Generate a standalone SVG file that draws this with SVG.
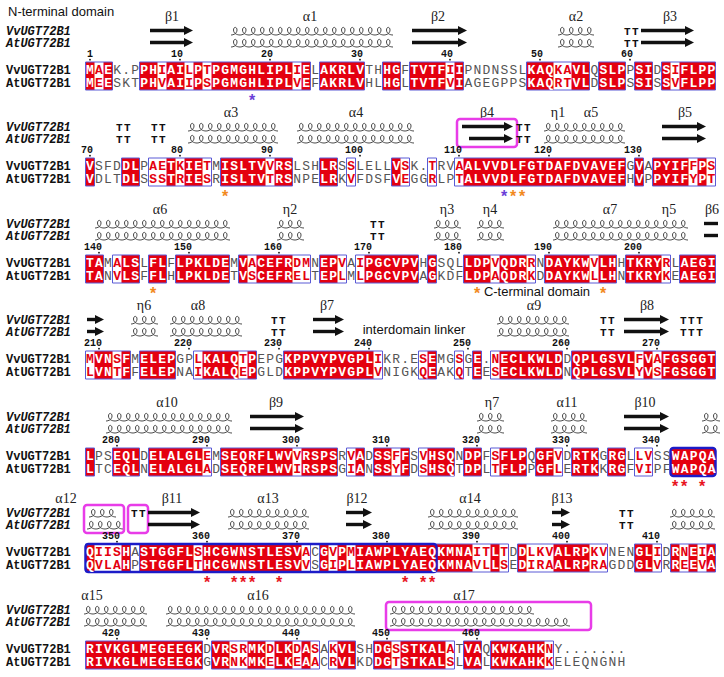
<svg xmlns="http://www.w3.org/2000/svg" width="724" height="677" viewBox="0 0 724 677">
<style>
.sq{font-family:"Liberation Mono",monospace;font-size:13px;font-weight:bold;letter-spacing:1.2px;fill:#fff}
.b{fill:#e4000f}.c{fill:#555;font-weight:normal}
.rd{fill:#e4000f}
.fr{fill:none;stroke:#5a5ad6;stroke-width:1}
.sl{font-family:"Liberation Mono",monospace;font-size:12px;font-weight:bold;fill:#111}
.il{font-family:"Liberation Mono",monospace;font-size:12px;font-weight:bold;font-style:italic;fill:#111}
.nm{font-family:"Liberation Mono",monospace;font-size:10px;font-weight:bold;fill:#111;text-anchor:end}
.gk{font-family:"Liberation Serif",serif;font-size:14px;fill:#222;text-anchor:middle}
.tt{font-family:"Liberation Mono",monospace;font-size:11px;font-weight:bold;letter-spacing:1.5px;fill:#111}
.ar{stroke:#111;stroke-width:3.4;marker-end:url(#ah)}
.br{stroke:#111;stroke-width:3.4}
.st{font-family:"Liberation Sans",sans-serif;font-size:16px;font-weight:bold;text-anchor:middle}
.so{fill:#f28a1e}.sp{fill:#6a3fd8}.sr{fill:#e8141e}
.mg{fill:none;stroke:#e83ce8;stroke-width:2.5}
.tb{fill:none;stroke:#1c1cc8;stroke-width:2.5}
.dm{font-family:"Liberation Sans",sans-serif;font-size:13px;fill:#111}
.hx{fill:url(#hx)}
.dt{fill:#111}
</style>
<defs>
<pattern id="hx" patternUnits="userSpaceOnUse" width="9" height="11"><path d="M0,10 C2.5,10 6,8.5 6,5 C6,1.5 2.5,1.5 2.5,5 C2.5,8.5 6,10 9,10" fill="none" stroke="#333" stroke-width="0.9"/></pattern>
<marker id="ah" viewBox="0 0 10 10" refX="0" refY="5" markerWidth="10" markerHeight="9" markerUnits="userSpaceOnUse" orient="auto"><path d="M0,0 L10,5 L0,10 Z" fill="#111"/></marker>
</defs>
<rect width="724" height="677" fill="#fff"/>
<text class="dm" x="8" y="16">N-terminal domain</text>

<g id="block1" transform="translate(0,70)">
<text class="gk" x="172" y="-49">β1</text><text class="gk" x="310" y="-49">α1</text><text class="gk" x="438" y="-49">β2</text><text class="gk" x="576" y="-49">α2</text><text class="gk" x="670" y="-49">β3</text>
<text class="il" x="6" y="-35">VvUGT72B1</text><text class="il" x="6" y="-23">AtUGT72B1</text>
<line class="ar" x1="150" y1="-39.5" x2="184" y2="-39.5"/><line class="ar" x1="150" y1="-27.5" x2="184" y2="-27.5"/>
<rect class="hx" transform="translate(231,-45)" width="162" height="11"/><rect class="hx" transform="translate(231,-33)" width="162" height="11"/>
<line class="ar" x1="412" y1="-39.5" x2="458" y2="-39.5"/><line class="ar" x1="412" y1="-27.5" x2="458" y2="-27.5"/>
<rect class="hx" transform="translate(558,-45)" width="36" height="11"/><rect class="hx" transform="translate(558,-33)" width="36" height="11"/>
<text class="tt" x="624" y="-35">TT</text><text class="tt" x="624" y="-23">TT</text>
<line class="ar" x1="641" y1="-39.5" x2="685" y2="-39.5"/><line class="ar" x1="641" y1="-27.5" x2="685" y2="-27.5"/>
<text class="nm" x="93" y="-13.5">1</text><text class="nm" x="183" y="-13.5">10</text><text class="nm" x="273" y="-13.5">20</text><text class="nm" x="363" y="-13.5">30</text><text class="nm" x="453" y="-13.5">40</text><text class="nm" x="543" y="-13.5">50</text><text class="nm" x="633" y="-13.5">60</text>
<g class="dt"><circle cx="90" cy="-10.3" r="0.9"/><circle cx="180" cy="-10.3" r="0.9"/><circle cx="270" cy="-10.3" r="0.9"/><circle cx="360" cy="-10.3" r="0.9"/><circle cx="450" cy="-10.3" r="0.9"/><circle cx="540" cy="-10.3" r="0.9"/><circle cx="630" cy="-10.3" r="0.9"/></g>
<path class="rd" d="M85.5 -8h9v28h-9z M103.5 -8h9v28h-9z M139.5 -8h18v28h-18z M166.5 -8h18v28h-18z M193.5 -8h9v28h-9z M211.5 -8h81v28h-81z M301.5 -8h9v28h-9z M319.5 -8h45v28h-45z M382.5 -8h18v28h-18z M409.5 -8h36v28h-36z M454.5 -8h9v28h-9z M526.5 -8h27v28h-27z M571.5 -8h18v28h-18z M598.5 -8h27v28h-27z M634.5 -8h18v28h-18z M661.5 -8h9v28h-9z M679.5 -8h36v28h-36z"/>
<path class="fr" d="M85.5 -8h27v28h-27z M139.5 -8h171v28h-171z M319.5 -8h45v28h-45z M382.5 -8h18v28h-18z M409.5 -8h54v28h-54z M526.5 -8h63v28h-63z M598.5 -8h27v28h-27z M634.5 -8h18v28h-18z M661.5 -8h54v28h-54z"/>
<text class="sl" x="6" y="4">VvUGT72B1</text><text class="sl" x="6" y="16.5">AtUGT72B1</text>
<text class="sq" x="86.1" y="4">M<tspan class="b">A</tspan>E<tspan class="c">K.P</tspan>PH<tspan class="b">I</tspan>AI<tspan class="b">L</tspan>P<tspan class="b">T</tspan>PGMGHLIPL<tspan class="b">I</tspan>E<tspan class="c">L</tspan>AKRLV<tspan class="c">TH</tspan>HG<tspan class="c">F</tspan>TVTF<tspan class="b">I</tspan>I<tspan class="c">PNDNSSL</tspan>KAQ<tspan class="b">KA</tspan>VL<tspan class="c">Q</tspan>SLP<tspan class="c">P</tspan>SI<tspan class="c">D</tspan>S<tspan class="b">I</tspan>FLPP</text>
<text class="sq" x="86.1" y="16.5">M<tspan class="b">E</tspan>E<tspan class="c">SKT</tspan>PH<tspan class="b">V</tspan>AI<tspan class="b">I</tspan>P<tspan class="b">S</tspan>PGMGHLIPL<tspan class="b">V</tspan>E<tspan class="c">F</tspan>AKRLV<tspan class="c">HL</tspan>HG<tspan class="c">L</tspan>TVTF<tspan class="b">V</tspan>I<tspan class="c">AGEGPPS</tspan>KAQ<tspan class="b">RT</tspan>VL<tspan class="c">D</tspan>SLP<tspan class="c">S</tspan>SI<tspan class="c">S</tspan>S<tspan class="b">V</tspan>FLPP</text>
<text class="st sp" x="252" y="36">*</text>
</g>

<g id="block2" transform="translate(0,166)">
<text class="gk" x="231" y="-49">α3</text><text class="gk" x="356" y="-49">α4</text><text class="gk" x="487" y="-49">β4</text><text class="gk" x="558" y="-49">η1</text><text class="gk" x="591" y="-49">α5</text><text class="gk" x="685" y="-49">β5</text>
<text class="il" x="6" y="-35">VvUGT72B1</text><text class="il" x="6" y="-23">AtUGT72B1</text>
<text class="tt" x="116" y="-35">TT</text><text class="tt" x="116" y="-23">TT</text><text class="tt" x="151" y="-35">TT</text><text class="tt" x="151" y="-23">TT</text>
<rect class="hx" transform="translate(188,-45)" width="90" height="11"/><rect class="hx" transform="translate(188,-33)" width="90" height="11"/>
<rect class="hx" transform="translate(297,-45)" width="117" height="11"/><rect class="hx" transform="translate(297,-33)" width="117" height="11"/>
<line class="ar" x1="462" y1="-39.5" x2="504" y2="-39.5"/><line class="ar" x1="469" y1="-27.5" x2="504" y2="-27.5"/>
<rect class="mg" x="457" y="-47" width="60" height="28" rx="3"/>
<text class="tt" x="516" y="-35">TT</text><text class="tt" x="516" y="-23">TT</text>
<rect class="hx" transform="translate(544,-45)" width="81" height="11"/><rect class="hx" transform="translate(544,-33)" width="81" height="11"/>
<line class="ar" x1="662" y1="-39.5" x2="697" y2="-39.5"/><line class="ar" x1="662" y1="-27.5" x2="697" y2="-27.5"/>
<text class="nm" x="93" y="-13.5">70</text><text class="nm" x="183" y="-13.5">80</text><text class="nm" x="273" y="-13.5">90</text><text class="nm" x="363" y="-13.5">100</text><text class="nm" x="462" y="-13.5">110</text><text class="nm" x="552" y="-13.5">120</text><text class="nm" x="642" y="-13.5">130</text>
<g class="dt"><circle cx="90" cy="-10.3" r="0.9"/><circle cx="180" cy="-10.3" r="0.9"/><circle cx="270" cy="-10.3" r="0.9"/><circle cx="360" cy="-10.3" r="0.9"/><circle cx="459" cy="-10.3" r="0.9"/><circle cx="549" cy="-10.3" r="0.9"/><circle cx="639" cy="-10.3" r="0.9"/></g>
<path class="rd" d="M85.5 -8h9v28h-9z M121.5 -8h18v28h-18z M166.5 -8h9v28h-9z M184.5 -8h18v28h-18z M220.5 -8h45v28h-45z M274.5 -8h18v28h-18z M319.5 -8h18v28h-18z M391.5 -8h9v28h-9z M463.5 -8h162v28h-162z M634.5 -8h9v28h-9z M652.5 -8h36v28h-36z M697.5 -8h9v28h-9z"/>
<path class="fr" d="M85.5 -8h9v28h-9z M121.5 -8h18v28h-18z M148.5 -8h63v28h-63z M220.5 -8h72v28h-72z M319.5 -8h18v28h-18z M346.5 -8h9v28h-9z M391.5 -8h18v28h-18z M427.5 -8h9v28h-9z M454.5 -8h171v28h-171z M634.5 -8h9v28h-9z M652.5 -8h63v28h-63z"/>
<text class="sl" x="6" y="4">VvUGT72B1</text><text class="sl" x="6" y="16.5">AtUGT72B1</text>
<text class="sq" x="86.1" y="4">V<tspan class="c">SFD</tspan>DL<tspan class="c">P</tspan><tspan class="b">AE</tspan>T<tspan class="b">K</tspan>IE<tspan class="b">T</tspan><tspan class="c">M</tspan>ISLTV<tspan class="b">V</tspan>RS<tspan class="c">LSH</tspan>LR<tspan class="c">S</tspan><tspan class="b">S</tspan><tspan class="c">LELL</tspan>V<tspan class="b">S</tspan><tspan class="c">K.</tspan><tspan class="b">T</tspan><tspan class="c">RV</tspan><tspan class="b">A</tspan>ALVVDLFGTDAFDVAVEF<tspan class="c">G</tspan>V<tspan class="c">A</tspan>PYIF<tspan class="b">F</tspan>P<tspan class="b">S</tspan></text>
<text class="sq" x="86.1" y="16.5">V<tspan class="c">DLT</tspan>DL<tspan class="c">S</tspan><tspan class="b">SS</tspan>T<tspan class="b">R</tspan>IE<tspan class="b">S</tspan><tspan class="c">R</tspan>ISLTV<tspan class="b">T</tspan>RS<tspan class="c">NPE</tspan>LR<tspan class="c">K</tspan><tspan class="b">V</tspan><tspan class="c">FDSF</tspan>V<tspan class="b">E</tspan><tspan class="c">GG</tspan><tspan class="b">R</tspan><tspan class="c">LP</tspan><tspan class="b">T</tspan>ALVVDLFGTDAFDVAVEF<tspan class="c">H</tspan>V<tspan class="c">P</tspan>PYIF<tspan class="b">Y</tspan>P<tspan class="b">T</tspan></text>
<text class="st so" x="225" y="36">*</text><text class="st sp" x="504" y="36">*</text><text class="st so" x="513" y="36">*</text><text class="st so" x="522" y="36">*</text>
</g>

<g id="block3" transform="translate(0,263)">
<text class="gk" x="160" y="-49">α6</text><text class="gk" x="290" y="-49">η2</text><text class="gk" x="447" y="-49">η3</text><text class="gk" x="490" y="-49">η4</text><text class="gk" x="610" y="-49">α7</text><text class="gk" x="669" y="-49">η5</text><text class="gk" x="712" y="-49">β6</text>
<text class="il" x="6" y="-35">VvUGT72B1</text><text class="il" x="6" y="-23">AtUGT72B1</text>
<rect class="hx" transform="translate(95,-45)" width="135" height="11"/><rect class="hx" transform="translate(95,-33)" width="135" height="11"/>
<rect class="hx" transform="translate(277,-45)" width="27" height="11"/><rect class="hx" transform="translate(277,-33)" width="27" height="11"/>
<text class="tt" x="370" y="-35">TT</text><text class="tt" x="370" y="-23">TT</text>
<rect class="hx" transform="translate(434,-45)" width="27" height="11"/><rect class="hx" transform="translate(434,-33)" width="27" height="11"/>
<rect class="hx" transform="translate(477,-45)" width="27" height="11"/><rect class="hx" transform="translate(477,-33)" width="27" height="11"/>
<rect class="hx" transform="translate(553,-45)" width="135" height="11"/><rect class="hx" transform="translate(553,-33)" width="135" height="11"/>
<line class="br" x1="704" y1="-39.5" x2="718" y2="-39.5"/><line class="br" x1="704" y1="-27.5" x2="718" y2="-27.5"/>
<text class="nm" x="102" y="-13.5">140</text><text class="nm" x="192" y="-13.5">150</text><text class="nm" x="282" y="-13.5">160</text><text class="nm" x="372" y="-13.5">170</text><text class="nm" x="462" y="-13.5">180</text><text class="nm" x="552" y="-13.5">190</text><text class="nm" x="642" y="-13.5">200</text>
<g class="dt"><circle cx="99" cy="-10.3" r="0.9"/><circle cx="189" cy="-10.3" r="0.9"/><circle cx="279" cy="-10.3" r="0.9"/><circle cx="369" cy="-10.3" r="0.9"/><circle cx="459" cy="-10.3" r="0.9"/><circle cx="549" cy="-10.3" r="0.9"/><circle cx="639" cy="-10.3" r="0.9"/></g>
<path class="rd" d="M85.5 -8h18v28h-18z M121.5 -8h18v28h-18z M148.5 -8h18v28h-18z M175.5 -8h54v28h-54z M238.5 -8h9v28h-9z M256.5 -8h36v28h-36z M319.5 -8h18v28h-18z M364.5 -8h54v28h-54z M427.5 -8h9v28h-9z M463.5 -8h27v28h-27z M499.5 -8h27v28h-27z M544.5 -8h45v28h-45z M598.5 -8h18v28h-18z M625.5 -8h36v28h-36z M679.5 -8h36v28h-36z"/>
<path class="fr" d="M85.5 -8h18v28h-18z M112.5 -8h27v28h-27z M148.5 -8h18v28h-18z M175.5 -8h54v28h-54z M238.5 -8h72v28h-72z M319.5 -8h27v28h-27z M355.5 -8h63v28h-63z M427.5 -8h9v28h-9z M463.5 -8h72v28h-72z M544.5 -8h72v28h-72z M625.5 -8h45v28h-45z M679.5 -8h36v28h-36z"/>
<text class="sl" x="6" y="4">VvUGT72B1</text><text class="sl" x="6" y="16.5">AtUGT72B1</text>
<text class="sq" x="86.1" y="4">TA<tspan class="c">M</tspan><tspan class="b">A</tspan>LS<tspan class="c">L</tspan>FL<tspan class="c">F</tspan>LPKLDE<tspan class="c">M</tspan>V<tspan class="b">A</tspan>CEFR<tspan class="b">DM</tspan><tspan class="c">N</tspan>EP<tspan class="b">V</tspan><tspan class="c">A</tspan><tspan class="b">I</tspan>PGCVPV<tspan class="c">H</tspan>G<tspan class="c">SQL</tspan>LDP<tspan class="b">V</tspan>QDR<tspan class="b">R</tspan><tspan class="c">N</tspan>DAYKW<tspan class="b">V</tspan>LH<tspan class="c">H</tspan>TKRY<tspan class="b">R</tspan><tspan class="c">L</tspan>AEGI</text>
<text class="sq" x="86.1" y="16.5">TA<tspan class="c">N</tspan><tspan class="b">V</tspan>LS<tspan class="c">F</tspan>FL<tspan class="c">H</tspan>LPKLDE<tspan class="c">T</tspan>V<tspan class="b">S</tspan>CEFR<tspan class="b">EL</tspan><tspan class="c">T</tspan>EP<tspan class="b">L</tspan><tspan class="c">M</tspan><tspan class="b">L</tspan>PGCVPV<tspan class="c">A</tspan>G<tspan class="c">KDF</tspan>LDP<tspan class="b">A</tspan>QDR<tspan class="b">K</tspan><tspan class="c">D</tspan>DAYKW<tspan class="b">L</tspan>LH<tspan class="c">N</tspan>TKRY<tspan class="b">K</tspan><tspan class="c">E</tspan>AEGI</text>
<text class="st so" x="153" y="36">*</text><text class="st so" x="477" y="36">*</text><text class="st so" x="603" y="36">*</text>
<text class="dm" x="537" y="33" text-anchor="middle">C-terminal domain</text>
</g>

<g id="block4" transform="translate(0,359)">
<text class="gk" x="144" y="-49">η6</text><text class="gk" x="198" y="-49">α8</text><text class="gk" x="327" y="-49">β7</text><text class="gk" x="534" y="-49">α9</text><text class="gk" x="647" y="-49">β8</text>
<text class="il" x="6" y="-35">VvUGT72B1</text><text class="il" x="6" y="-23">AtUGT72B1</text>
<line class="ar" x1="87" y1="-39.5" x2="95" y2="-39.5"/><line class="ar" x1="87" y1="-27.5" x2="95" y2="-27.5"/>
<rect class="hx" transform="translate(131,-45)" width="27" height="11"/><rect class="hx" transform="translate(131,-33)" width="27" height="11"/>
<rect class="hx" transform="translate(170,-45)" width="72" height="11"/><rect class="hx" transform="translate(170,-33)" width="72" height="11"/>
<text class="tt" x="271" y="-35">TT</text><text class="tt" x="271" y="-23">TT</text>
<line class="ar" x1="313" y1="-39.5" x2="335" y2="-39.5"/><line class="ar" x1="313" y1="-27.5" x2="335" y2="-27.5"/>
<text class="dm" x="414" y="-25" text-anchor="middle" font-size="12.5">interdomain linker</text>
<rect class="hx" transform="translate(497,-45)" width="72" height="11"/><rect class="hx" transform="translate(497,-33)" width="72" height="11"/>
<text class="tt" x="600" y="-35">TT</text><text class="tt" x="600" y="-23">TT</text>
<line class="ar" x1="624" y1="-39.5" x2="660" y2="-39.5"/><line class="ar" x1="624" y1="-27.5" x2="660" y2="-27.5"/>
<text class="tt" x="680" y="-35">TTT</text><text class="tt" x="680" y="-23">TTT</text>
<text class="nm" x="102" y="-13.5">210</text><text class="nm" x="192" y="-13.5">220</text><text class="nm" x="282" y="-13.5">230</text><text class="nm" x="372" y="-13.5">240</text><text class="nm" x="471" y="-13.5">250</text><text class="nm" x="570" y="-13.5">260</text><text class="nm" x="660" y="-13.5">270</text>
<g class="dt"><circle cx="99" cy="-10.3" r="0.9"/><circle cx="189" cy="-10.3" r="0.9"/><circle cx="279" cy="-10.3" r="0.9"/><circle cx="369" cy="-10.3" r="0.9"/><circle cx="468" cy="-10.3" r="0.9"/><circle cx="567" cy="-10.3" r="0.9"/><circle cx="657" cy="-10.3" r="0.9"/></g>
<path class="rd" d="M94.5 -8h18v28h-18z M121.5 -8h9v28h-9z M139.5 -8h36v28h-36z M202.5 -8h36v28h-36z M247.5 -8h9v28h-9z M283.5 -8h90v28h-90z M427.5 -8h9v28h-9z M472.5 -8h9v28h-9z M499.5 -8h63v28h-63z M571.5 -8h63v28h-63z M643.5 -8h9v28h-9z M661.5 -8h54v28h-54z"/>
<path class="fr" d="M85.5 -8h45v28h-45z M139.5 -8h36v28h-36z M193.5 -8h63v28h-63z M283.5 -8h99v28h-99z M418.5 -8h18v28h-18z M454.5 -8h9v28h-9z M472.5 -8h9v28h-9z M490.5 -8h72v28h-72z M571.5 -8h144v28h-144z"/>
<text class="sl" x="6" y="4">VvUGT72B1</text><text class="sl" x="6" y="16.5">AtUGT72B1</text>
<text class="sq" x="86.1" y="4"><tspan class="b">M</tspan>VN<tspan class="b">S</tspan>F<tspan class="c">M</tspan>ELEP<tspan class="c">GP</tspan><tspan class="b">L</tspan>KALQ<tspan class="b">T</tspan>P<tspan class="c">EPG</tspan>KPPVYPVGPL<tspan class="b">I</tspan><tspan class="c">KR.E</tspan><tspan class="b">S</tspan>E<tspan class="c">MG</tspan><tspan class="b">S</tspan><tspan class="c">G</tspan>E<tspan class="c">.</tspan><tspan class="b">N</tspan>ECLKWLD<tspan class="c">D</tspan>QPLGSVL<tspan class="b">F</tspan>V<tspan class="b">A</tspan>FGSGGT</text>
<text class="sq" x="86.1" y="16.5"><tspan class="b">L</tspan>VN<tspan class="b">T</tspan>F<tspan class="c">F</tspan>ELEP<tspan class="c">NA</tspan><tspan class="b">I</tspan>KALQ<tspan class="b">E</tspan>P<tspan class="c">GLD</tspan>KPPVYPVGPL<tspan class="b">V</tspan><tspan class="c">NIGK</tspan><tspan class="b">Q</tspan>E<tspan class="c">AK</tspan><tspan class="b">Q</tspan><tspan class="c">T</tspan>E<tspan class="c">E</tspan><tspan class="b">S</tspan>ECLKWLD<tspan class="c">N</tspan>QPLGSVL<tspan class="b">Y</tspan>V<tspan class="b">S</tspan>FGSGGT</text>
</g>

<g id="block5" transform="translate(0,456)">
<text class="gk" x="167" y="-49">α10</text><text class="gk" x="276" y="-49">β9</text><text class="gk" x="492" y="-49">η7</text><text class="gk" x="567" y="-49">α11</text><text class="gk" x="645" y="-49">β10</text>
<text class="il" x="6" y="-35">VvUGT72B1</text><text class="il" x="6" y="-23">AtUGT72B1</text>
<rect class="hx" transform="translate(106,-45)" width="126" height="11"/><rect class="hx" transform="translate(106,-33)" width="126" height="11"/>
<line class="ar" x1="250" y1="-39.5" x2="295" y2="-39.5"/><line class="ar" x1="250" y1="-27.5" x2="295" y2="-27.5"/>
<rect class="hx" transform="translate(477,-45)" width="27" height="11"/><rect class="hx" transform="translate(477,-33)" width="27" height="11"/>
<rect class="hx" transform="translate(551,-45)" width="36" height="11"/><rect class="hx" transform="translate(551,-33)" width="36" height="11"/>
<line class="ar" x1="624" y1="-39.5" x2="660" y2="-39.5"/><line class="ar" x1="624" y1="-27.5" x2="660" y2="-27.5"/>
<rect class="hx" transform="translate(702,-45)" width="18" height="11"/><rect class="hx" transform="translate(702,-33)" width="18" height="11"/>
<text class="nm" x="120" y="-13.5">280</text><text class="nm" x="210" y="-13.5">290</text><text class="nm" x="300" y="-13.5">300</text><text class="nm" x="390" y="-13.5">310</text><text class="nm" x="480" y="-13.5">320</text><text class="nm" x="570" y="-13.5">330</text><text class="nm" x="660" y="-13.5">340</text>
<g class="dt"><circle cx="117" cy="-10.3" r="0.9"/><circle cx="207" cy="-10.3" r="0.9"/><circle cx="297" cy="-10.3" r="0.9"/><circle cx="387" cy="-10.3" r="0.9"/><circle cx="477" cy="-10.3" r="0.9"/><circle cx="567" cy="-10.3" r="0.9"/><circle cx="657" cy="-10.3" r="0.9"/></g>
<path class="rd" d="M85.5 -8h9v28h-9z M112.5 -8h27v28h-27z M148.5 -8h54v28h-54z M220.5 -8h72v28h-72z M301.5 -8h36v28h-36z M355.5 -8h9v28h-9z M373.5 -8h18v28h-18z M400.5 -8h9v28h-9z M427.5 -8h27v28h-27z M463.5 -8h18v28h-18z M499.5 -8h27v28h-27z M535.5 -8h18v28h-18z M571.5 -8h27v28h-27z M607.5 -8h18v28h-18z M670.5 -8h45v28h-45z"/>
<path class="fr" d="M85.5 -8h9v28h-9z M112.5 -8h27v28h-27z M148.5 -8h63v28h-63z M220.5 -8h117v28h-117z M346.5 -8h18v28h-18z M373.5 -8h36v28h-36z M418.5 -8h36v28h-36z M463.5 -8h18v28h-18z M490.5 -8h36v28h-36z M535.5 -8h27v28h-27z M571.5 -8h27v28h-27z M607.5 -8h18v28h-18z M634.5 -8h18v28h-18z"/>
<rect class="tb" x="670.5" y="-8" width="45" height="28" rx="3"/>
<text class="sl" x="6" y="4">VvUGT72B1</text><text class="sl" x="6" y="16.5">AtUGT72B1</text>
<text class="sq" x="86.1" y="4">L<tspan class="c">PS</tspan>EQL<tspan class="c">D</tspan>ELALGL<tspan class="b">E</tspan><tspan class="c">M</tspan>SEQRFLWV<tspan class="b">V</tspan>RSPS<tspan class="c">R</tspan><tspan class="b">V</tspan>A<tspan class="c">D</tspan>SS<tspan class="b">F</tspan>F<tspan class="c">S</tspan><tspan class="b">V</tspan>HSQ<tspan class="c">N</tspan>DP<tspan class="c">F</tspan><tspan class="b">S</tspan>FLP<tspan class="c">Q</tspan>GF<tspan class="b">V</tspan><tspan class="c">D</tspan>RTK<tspan class="c">G</tspan>RG<tspan class="c">L</tspan><tspan class="b">LV</tspan><tspan class="c">SS</tspan>WAPQA</text>
<text class="sq" x="86.1" y="16.5">L<tspan class="c">TC</tspan>EQL<tspan class="c">N</tspan>ELALGL<tspan class="b">A</tspan><tspan class="c">D</tspan>SEQRFLWV<tspan class="b">I</tspan>RSPS<tspan class="c">G</tspan><tspan class="b">I</tspan>A<tspan class="c">N</tspan>SS<tspan class="b">Y</tspan>F<tspan class="c">D</tspan><tspan class="b">S</tspan>HSQ<tspan class="c">T</tspan>DP<tspan class="c">L</tspan><tspan class="b">T</tspan>FLP<tspan class="c">P</tspan>GF<tspan class="b">L</tspan><tspan class="c">E</tspan>RTK<tspan class="c">K</tspan>RG<tspan class="c">F</tspan><tspan class="b">VI</tspan><tspan class="c">PF</tspan>WAPQA</text>
<text class="st sr" x="675" y="36">*</text><text class="st sr" x="684" y="36">*</text><text class="st sr" x="702" y="36">*</text>
</g>

<g id="block6" transform="translate(0,552)">
<text class="gk" x="66" y="-49">α12</text><text class="gk" x="172" y="-49">β11</text><text class="gk" x="268" y="-49">α13</text><text class="gk" x="357" y="-49">β12</text><text class="gk" x="470" y="-49">α14</text><text class="gk" x="562" y="-49">β13</text>
<text class="il" x="6" y="-35">VvUGT72B1</text><text class="il" x="6" y="-23">AtUGT72B1</text>
<rect class="hx" transform="translate(89,-45)" width="27" height="11"/><rect class="hx" transform="translate(87,-33)" width="36" height="11"/>
<rect class="mg" x="84" y="-47" width="40" height="28" rx="3"/><rect class="mg" x="128" y="-47" width="20" height="28" rx="3"/>
<text class="tt" x="131" y="-35">TT</text>
<line class="ar" x1="148" y1="-39.5" x2="191" y2="-39.5"/><line class="ar" x1="148" y1="-27.5" x2="191" y2="-27.5"/>
<rect class="hx" transform="translate(228,-45)" width="81" height="11"/><rect class="hx" transform="translate(228,-33)" width="81" height="11"/>
<line class="ar" x1="346" y1="-39.5" x2="363" y2="-39.5"/><line class="ar" x1="346" y1="-27.5" x2="363" y2="-27.5"/>
<rect class="hx" transform="translate(428,-45)" width="90" height="11"/><rect class="hx" transform="translate(428,-33)" width="90" height="11"/>
<line class="ar" x1="552" y1="-39.5" x2="561" y2="-39.5"/><line class="ar" x1="552" y1="-27.5" x2="561" y2="-27.5"/>
<text class="tt" x="619" y="-35">TT</text><text class="tt" x="619" y="-23">TT</text>
<rect class="hx" transform="translate(670,-45)" width="45" height="11"/><rect class="hx" transform="translate(670,-33)" width="45" height="11"/>
<text class="nm" x="120" y="-13.5">350</text><text class="nm" x="210" y="-13.5">360</text><text class="nm" x="300" y="-13.5">370</text><text class="nm" x="390" y="-13.5">380</text><text class="nm" x="480" y="-13.5">390</text><text class="nm" x="570" y="-13.5">400</text><text class="nm" x="660" y="-13.5">410</text>
<g class="dt"><circle cx="117" cy="-10.3" r="0.9"/><circle cx="207" cy="-10.3" r="0.9"/><circle cx="297" cy="-10.3" r="0.9"/><circle cx="387" cy="-10.3" r="0.9"/><circle cx="477" cy="-10.3" r="0.9"/><circle cx="567" cy="-10.3" r="0.9"/><circle cx="657" cy="-10.3" r="0.9"/></g>
<path class="rd" d="M85.5 -8h9v28h-9z M121.5 -8h9v28h-9z M139.5 -8h54v28h-54z M202.5 -8h99v28h-99z M319.5 -8h9v28h-9z M337.5 -8h9v28h-9z M355.5 -8h117v28h-117z M490.5 -8h9v28h-9z M517.5 -8h9v28h-9z M553.5 -8h36v28h-36z M634.5 -8h18v28h-18z M670.5 -8h9v28h-9z M688.5 -8h9v28h-9z M706.5 -8h9v28h-9z"/>
<path class="fr" d="M85.5 -8h45v28h-45z M139.5 -8h171v28h-171z M319.5 -8h189v28h-189z M517.5 -8h90v28h-90z M634.5 -8h27v28h-27z M670.5 -8h45v28h-45z"/>
<rect class="tb" x="85.5" y="-8" width="351" height="28" rx="3"/>
<text class="sl" x="6" y="4">VvUGT72B1</text><text class="sl" x="6" y="16.5">AtUGT72B1</text>
<text class="sq" x="86.1" y="4">Q<tspan class="b">IIS</tspan>H<tspan class="c">A</tspan>STGGFL<tspan class="b">S</tspan>HCGWNSTLESV<tspan class="b">A</tspan><tspan class="c">C</tspan>G<tspan class="b">V</tspan>P<tspan class="b">M</tspan>IAWPLYAEQKMNA<tspan class="b">IT</tspan>L<tspan class="b">T</tspan><tspan class="c">D</tspan>D<tspan class="b">LKV</tspan>ALRP<tspan class="b">KV</tspan><tspan class="c">NEN</tspan>GL<tspan class="b">I</tspan><tspan class="c">D</tspan>R<tspan class="b">N</tspan>E<tspan class="b">I</tspan>A</text>
<text class="sq" x="86.1" y="16.5">Q<tspan class="b">VLA</tspan>H<tspan class="c">P</tspan>STGGFL<tspan class="b">T</tspan>HCGWNSTLESV<tspan class="b">V</tspan><tspan class="c">S</tspan>G<tspan class="b">I</tspan>P<tspan class="b">L</tspan>IAWPLYAEQKMNA<tspan class="b">VL</tspan>L<tspan class="b">S</tspan><tspan class="c">E</tspan>D<tspan class="b">IRA</tspan>ALRP<tspan class="b">RA</tspan><tspan class="c">GDD</tspan>GL<tspan class="b">V</tspan><tspan class="c">R</tspan>R<tspan class="b">E</tspan>E<tspan class="b">V</tspan>A</text>
<text class="st sr" x="207" y="36">*</text><text class="st sr" x="234" y="36">*</text><text class="st sr" x="243" y="36">*</text><text class="st sr" x="252" y="36">*</text><text class="st sr" x="279" y="36">*</text><text class="st sr" x="405" y="36">*</text><text class="st sr" x="423" y="36">*</text><text class="st sr" x="432" y="36">*</text>
</g>

<g id="block7" transform="translate(0,649)">
<text class="gk" x="92" y="-49">α15</text><text class="gk" x="258" y="-49">α16</text><text class="gk" x="464" y="-49">α17</text>
<text class="il" x="6" y="-35">VvUGT72B1</text><text class="il" x="6" y="-23">AtUGT72B1</text>
<rect class="hx" transform="translate(84,-45)" width="63" height="11"/><rect class="hx" transform="translate(84,-33)" width="63" height="11"/>
<rect class="hx" transform="translate(166,-45)" width="189" height="11"/><rect class="hx" transform="translate(166,-33)" width="189" height="11"/>
<rect class="hx" transform="translate(390,-45)" width="144" height="11"/><rect class="hx" transform="translate(390,-33)" width="180" height="11"/>
<rect class="mg" x="386" y="-47" width="205" height="28" rx="3"/>
<text class="nm" x="120" y="-13.5">420</text><text class="nm" x="210" y="-13.5">430</text><text class="nm" x="300" y="-13.5">440</text><text class="nm" x="390" y="-13.5">450</text><text class="nm" x="480" y="-13.5">460</text>
<g class="dt"><circle cx="117" cy="-10.3" r="0.9"/><circle cx="207" cy="-10.3" r="0.9"/><circle cx="297" cy="-10.3" r="0.9"/><circle cx="387" cy="-10.3" r="0.9"/><circle cx="477" cy="-10.3" r="0.9"/></g>
<path class="rd" d="M85.5 -8h117v28h-117z M211.5 -8h18v28h-18z M247.5 -8h18v28h-18z M274.5 -8h18v28h-18z M301.5 -8h9v28h-9z M337.5 -8h18v28h-18z M373.5 -8h18v28h-18z M400.5 -8h45v28h-45z M463.5 -8h18v28h-18z M490.5 -8h54v28h-54z"/>
<path class="fr" d="M85.5 -8h117v28h-117z M211.5 -8h108v28h-108z M328.5 -8h27v28h-27z M373.5 -8h81v28h-81z M463.5 -8h18v28h-18z M490.5 -8h63v28h-63z"/>
<text class="sl" x="6" y="4">VvUGT72B1</text><text class="sl" x="6" y="16.5">AtUGT72B1</text>
<text class="sq" x="86.1" y="4">RIVKGLMEGEEGK<tspan class="c">D</tspan>VR<tspan class="b">SR</tspan>MK<tspan class="b">D</tspan>LK<tspan class="b">D</tspan>A<tspan class="b">S</tspan><tspan class="c">A</tspan><tspan class="b">K</tspan>VL<tspan class="c">SH</tspan>DG<tspan class="b">S</tspan>STKAL<tspan class="b">A</tspan><tspan class="c">T</tspan>VA<tspan class="c">Q</tspan>KWKAHK<tspan class="b">N</tspan><tspan class="c">Y.......</tspan></text>
<text class="sq" x="86.1" y="16.5">RIVKGLMEGEEGK<tspan class="c">G</tspan>VR<tspan class="b">NK</tspan>MK<tspan class="b">E</tspan>LK<tspan class="b">E</tspan>A<tspan class="b">A</tspan><tspan class="c">C</tspan><tspan class="b">R</tspan>VL<tspan class="c">KD</tspan>DG<tspan class="b">T</tspan>STKAL<tspan class="b">S</tspan><tspan class="c">L</tspan>VA<tspan class="c">L</tspan>KWKAHK<tspan class="b">K</tspan><tspan class="c">ELEQNGNH</tspan></text>
</g>
</svg>
